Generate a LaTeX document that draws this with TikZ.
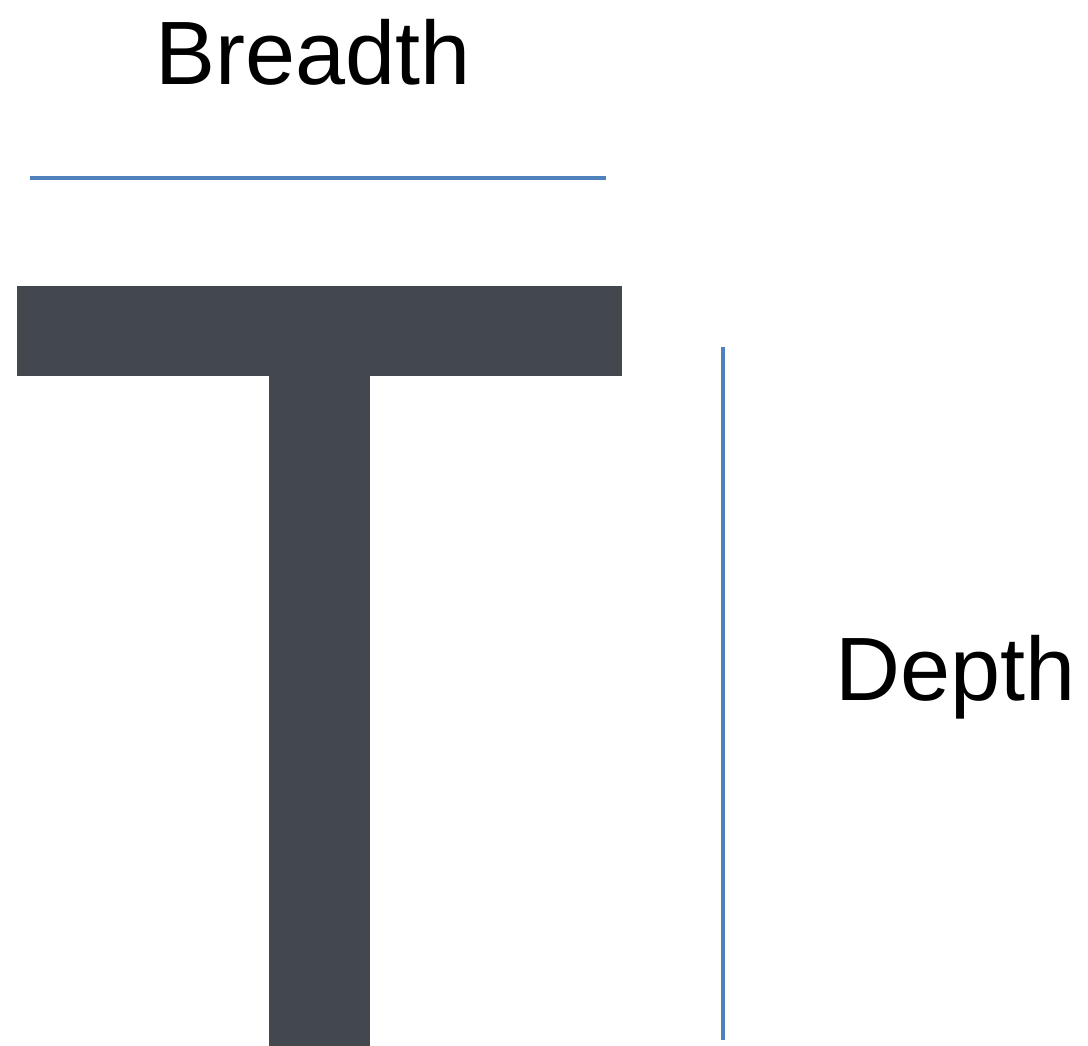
\documentclass[tikz,border=0pt]{standalone}
\usepackage{fontspec}
\setmainfont{Liberation Sans}
\definecolor{tdark}{HTML}{43474E}
\definecolor{lblue}{HTML}{4F81BD}
\tikzset{
  lbl/.style={font=\fontsize{90}{100}\selectfont, inner sep=0pt, anchor=base west},
  dimline/.style={draw=lblue, line width=4pt},
  tpart/.style={fill=tdark, draw=none}
}
\begin{document}
\begin{tikzpicture}[x=1pt,y=-1pt]
\useasboundingbox[fill=white] (0,0) rectangle (1088,1046);
\node[lbl] (breadth) at (155,85) {Breadth};
\node[lbl] (depth) at (835,700) {Depth};
\coordinate (b1) at (30,178);
\coordinate (b2) at (606,178);
\draw[dimline] (b1) -- (b2);
\coordinate (d1) at (723,347);
\coordinate (d2) at (723,1040);
\draw[dimline] (d1) -- (d2);
\fill[tpart] (17,286) rectangle (622,376);
\fill[tpart] (269,375) rectangle (370,1046);
\end{tikzpicture}
\end{document}
